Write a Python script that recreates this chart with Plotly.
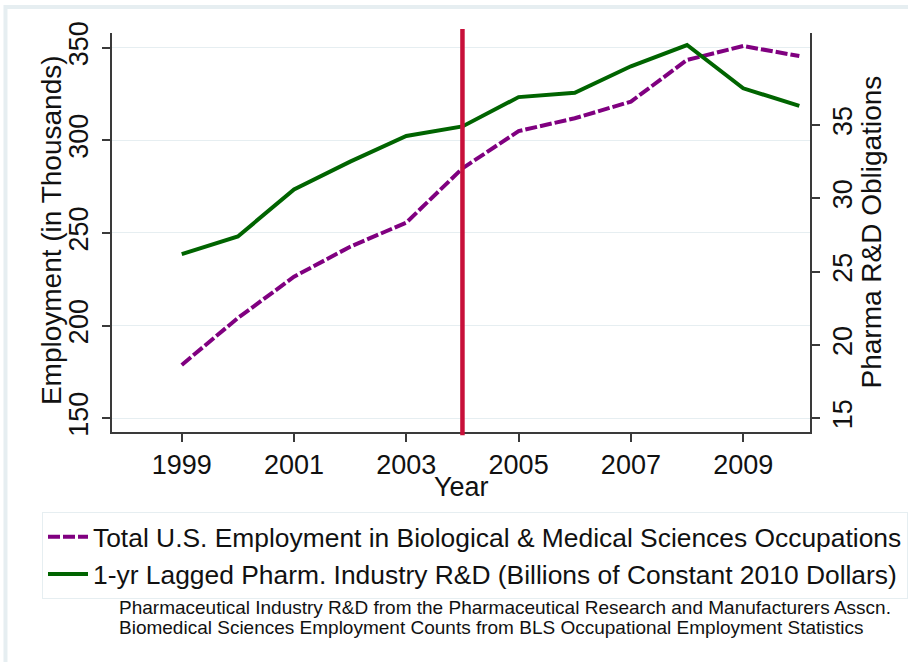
import plotly.graph_objects as go

# ---- data ----
years = [1999, 2000, 2001, 2002, 2003, 2004, 2005, 2006, 2007, 2008, 2009, 2010]
employment = [178.8, 204.1, 226.4, 242.6, 255.6, 284.9, 305.0, 311.9, 320.9, 343.4, 350.9, 345.5]
pharma_rd = [26.2, 27.4, 30.6, 32.5, 34.25, 34.9, 36.9, 37.2, 39.0, 40.45, 37.5, 36.3]

x_tick_vals = [1999, 2001, 2003, 2005, 2007, 2009]
left_tick_vals = [150, 200, 250, 300, 350]
right_tick_vals = [15, 20, 25, 30, 35]
marker_year = 2004

name_emp = "Total U.S. Employment in Biological & Medical Sciences Occupations"
name_rd = "1-yr Lagged Pharm. Industry R&D (Billions of Constant 2010 Dollars)"
x_title = "Year"
y_title = "Employment (in Thousands)"
y2_title = "Pharma R&D Obligations"
footnotes = [
    "Pharmaceutical Industry R&D from the Pharmaceutical Research and Manufacturers Asscn.",
    "Biomedical Sciences Employment Counts from BLS Occupational Employment Statistics",
]

FONT = "Liberation Sans, Arial, sans-serif"
TXT = "#111111"
AXIS_COL = "#3a3a3a"
GRID_COL = "#E6EEF1"

fig = go.Figure()
fig.add_trace(go.Scatter(
    x=years, y=employment, name=name_emp, mode="lines",
    line=dict(color="#800080", width=4, dash="12px,3px"),
    yaxis="y",
))
fig.add_trace(go.Scatter(
    x=years, y=pharma_rd, name=name_rd, mode="lines",
    line=dict(color="#006400", width=4),
    yaxis="y2",
))

# vertical marker line at 2004
fig.add_shape(type="line", xref="x", yref="paper",
              x0=marker_year, x1=marker_year, y0=-0.008, y1=1.01,
              line=dict(color="#C8103A", width=4.5), layer="above")

# light outer frame of the graph region
fig.add_shape(type="rect", xref="paper", yref="paper",
              x0=-0.1526, y0=1.065, x1=1.5, y1=-1.0,
              line=dict(color="#E6EEF1", width=4), fillcolor="rgba(0,0,0,0)",
              layer="below")

# axis titles
fig.add_annotation(text=x_title, xref="paper", yref="paper", x=0.5, y=-0.1378,
                   xanchor="center", yanchor="middle", showarrow=False,
                   font=dict(family=FONT, size=27, color=TXT))
fig.add_annotation(text=y_title, xref="paper", yref="paper", x=-0.0874, y=0.506,
                   xanchor="center", yanchor="middle", showarrow=False, textangle=-90,
                   font=dict(family=FONT, size=28, color=TXT))
fig.add_annotation(text=y2_title, xref="paper", yref="paper", x=1.0888, y=0.5025,
                   xanchor="center", yanchor="middle", showarrow=False, textangle=-90,
                   font=dict(family=FONT, size=28, color=TXT))

for i, t in enumerate(footnotes):
    fig.add_annotation(text=t, xref="paper", yref="paper",
                       x=0.0072, y=-0.441 - 0.05 * i,
                       xanchor="left", yanchor="middle", showarrow=False,
                       font=dict(family=FONT, size=19, color=TXT))

fig.update_layout(
    width=908, height=662,
    margin=dict(l=112, r=98, t=33, b=230),
    paper_bgcolor="white", plot_bgcolor="white",
    font=dict(family=FONT, color=TXT),
    showlegend=True,
    legend=dict(
        x=-0.0875, y=-0.2005, xanchor="left", yanchor="top",
        bgcolor="white", bordercolor="#E6EEF1", borderwidth=1,
        font=dict(family=FONT, size=26.4, color=TXT),
        itemwidth=40, tracegroupgap=0,
    ),
    xaxis=dict(
        range=[1997.758, 2010.19],
        tickvals=x_tick_vals, ticktext=[str(v) for v in x_tick_vals],
        showgrid=False, zeroline=False,
        showline=True, linecolor=AXIS_COL, linewidth=1.5,
        ticks="outside", ticklen=8, tickwidth=1.5, tickcolor=AXIS_COL,
        tickfont=dict(family=FONT, size=27, color=TXT),
    ),
    yaxis=dict(
        range=[142.6, 357.93],
        tickvals=left_tick_vals, ticktext=[str(v) for v in left_tick_vals],
        tickangle=-90,
        showgrid=True, gridcolor=GRID_COL, gridwidth=1.2, zeroline=False,
        showline=True, linecolor=AXIS_COL, linewidth=1.5,
        ticks="outside", ticklen=8, tickwidth=1.5, tickcolor=AXIS_COL,
        ticklabelstandoff=3,
        tickfont=dict(family=FONT, size=27, color=TXT),
    ),
    yaxis2=dict(
        range=[14.07, 41.27], overlaying="y", side="right",
        tickvals=right_tick_vals, ticktext=[str(v) for v in right_tick_vals],
        tickangle=-90,
        showgrid=False, zeroline=False,
        showline=True, linecolor=AXIS_COL, linewidth=1.5,
        ticks="outside", ticklen=8, tickwidth=1.5, tickcolor=AXIS_COL,
        ticklabelstandoff=0,
        tickfont=dict(family=FONT, size=27, color=TXT),
    ),
)

fig.write_html("out.html", config={"displayModeBar": False},
               post_script="document.body.style.margin='0px';")
